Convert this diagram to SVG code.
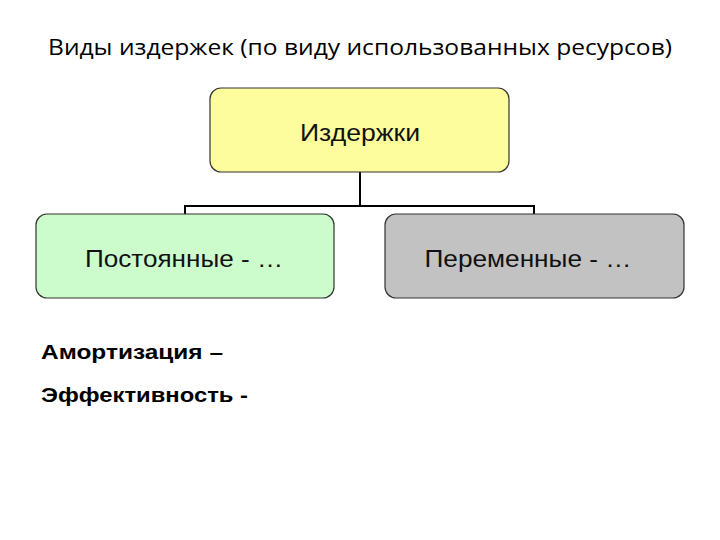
<svg xmlns="http://www.w3.org/2000/svg" width="720" height="540" viewBox="0 0 720 540">
<style>
.box{stroke:#333;stroke-width:1.2}
.lbl{font-family:"Liberation Sans",Arial,sans-serif;font-size:24px;fill:#111;text-anchor:middle}
.conn{fill:none;stroke:#000;stroke-width:2}
.note{font-family:"Liberation Sans",Arial,sans-serif;font-size:21px;font-weight:bold;fill:#000}
</style>
<rect width="720" height="540" fill="#fff"/>
<text x="360" y="55" font-family="Open Sans, 'Noto Sans', sans-serif" font-size="22" fill="#000" text-anchor="middle" textLength="624" lengthAdjust="spacingAndGlyphs">Виды издержек (по виду использованных ресурсов)</text>
<g id="connectors">
<path class="conn" d="M360,172 V206 M185,214 V206 H534 V214"/>
</g>
<g id="node-root">
<rect class="box" x="210" y="88" width="299" height="84" rx="11" fill="#fdfd9e"/>
<text class="lbl" x="360" y="141" textLength="120" lengthAdjust="spacingAndGlyphs">Издержки</text>
</g>
<g id="node-fixed">
<rect class="box" x="36" y="214" width="298" height="84" rx="11" fill="#ccfccc"/>
<text class="lbl" x="184" y="267" textLength="198" lengthAdjust="spacingAndGlyphs">Постоянные - …</text>
</g>
<g id="node-variable">
<rect class="box" x="385" y="214" width="299" height="84" rx="11" fill="#c2c2c2"/>
<text class="lbl" x="528" y="267" textLength="207" lengthAdjust="spacingAndGlyphs">Переменные - …</text>
</g>
<text class="note" x="41" y="359" textLength="182" lengthAdjust="spacingAndGlyphs">Амортизация –</text>
<text class="note" x="41" y="402" textLength="207" lengthAdjust="spacingAndGlyphs">Эффективность -</text>
</svg>
